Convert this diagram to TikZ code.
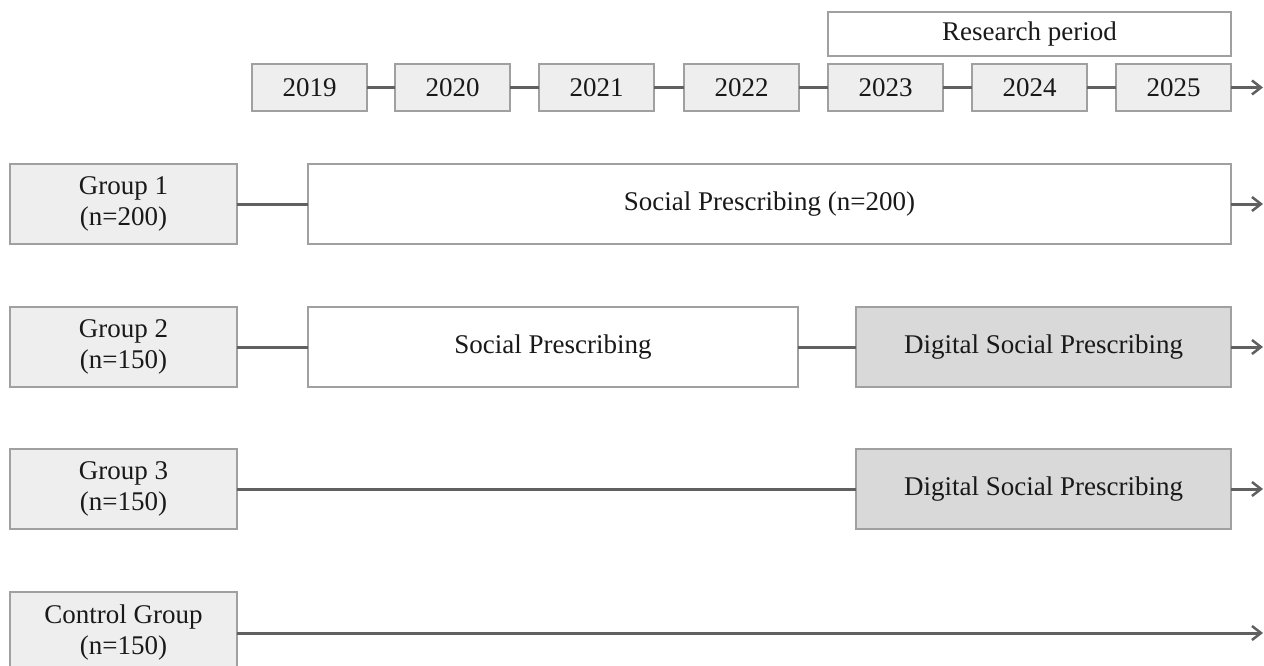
\documentclass[tikz,border=0pt]{standalone}
\usepackage{fontspec}
\setmainfont{Liberation Serif}
\usetikzlibrary{arrows.meta}
\definecolor{boxline}{HTML}{A0A0A0}
\definecolor{connline}{HTML}{606060}
\definecolor{lightfill}{HTML}{EEEEEE}
\definecolor{darkfill}{HTML}{D9D9D9}
\begin{document}
\begin{tikzpicture}[x=1pt,y=-1pt,
  box/.style={draw=boxline,line width=1.6pt,inner sep=0pt,outer sep=0pt,anchor=north west,
    font=\fontsize{27}{31}\selectfont,align=center,text=black!90},
  yearbox/.style={box,fill=lightfill,minimum width=115pt,minimum height=47pt},
  groupbox/.style={box,fill=lightfill,minimum width=227pt,minimum height=80pt},
  conn/.style={draw=connline,line width=3pt},
  arr/.style={conn,-{Straight Barb[length=9pt,width=14pt,line width=2.5pt]}}]
\useasboundingbox (0,0) rectangle (1264,666);
% research period
\node[box,fill=white,minimum width=403pt,minimum height=44pt] (rp) at (828,12) {Research period};
% years
\node[yearbox] (y19) at (252,64) {2019};
\node[yearbox] (y20) at (395,64) {2020};
\node[yearbox] (y21) at (539,64) {2021};
\node[yearbox] (y22) at (684,64) {2022};
\node[yearbox] (y23) at (828,64) {2023};
\node[yearbox] (y24) at (972,64) {2024};
\node[yearbox] (y25) at (1116,64) {2025};
\coordinate (ye) at (1263,87.5);
\draw[conn] (y19) -- (y20);
\draw[conn] (y20) -- (y21);
\draw[conn] (y21) -- (y22);
\draw[conn] (y22) -- (y23);
\draw[conn] (y23) -- (y24);
\draw[conn] (y24) -- (y25);
\draw[arr] (y25.east) -- (ye);
% groups
\node[groupbox] (g1) at (10,164) {Group 1\\(n=200)};
\node[groupbox] (g2) at (10,307) {Group 2\\(n=150)};
\node[groupbox] (g3) at (10,449) {Group 3\\(n=150)};
\node[groupbox,minimum height=82pt] (gc) at (10,592) {Control Group\\(n=150)};
% interventions
\node[box,fill=white,minimum width=923pt,minimum height=80pt] (sp1) at (308,164) {Social Prescribing (n=200)};
\node[box,fill=white,minimum width=490pt,minimum height=80pt] (sp2) at (308,307) {Social Prescribing};
\node[box,fill=darkfill,minimum width=375pt,minimum height=80pt] (dsp2) at (856,307) {Digital Social Prescribing};
\node[box,fill=darkfill,minimum width=375pt,minimum height=80pt] (dsp3) at (856,449) {Digital Social Prescribing};
\coordinate (e1) at (1263,204);
\coordinate (e2) at (1263,347);
\coordinate (e3) at (1263,489);
\coordinate (ec) at (1263,633);
% connectors
\draw[conn] (g1) -- (sp1);
\draw[arr] (sp1.east) -- (e1);
\draw[conn] (g2) -- (sp2);
\draw[conn] (sp2) -- (dsp2);
\draw[arr] (dsp2.east) -- (e2);
\draw[conn] (g3) -- (dsp3);
\draw[arr] (dsp3.east) -- (e3);
\draw[arr] (gc.east) -- (ec);
\end{tikzpicture}
\end{document}
